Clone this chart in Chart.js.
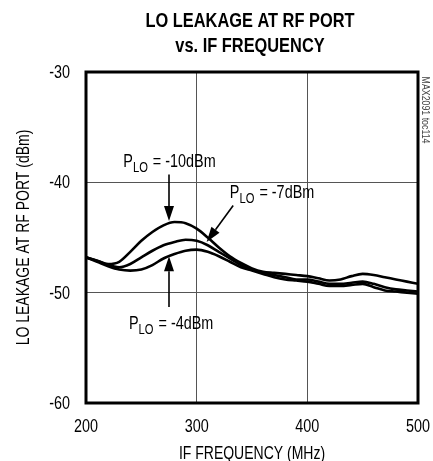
<!DOCTYPE html>
<html>
<head>
<meta charset="utf-8">
<script src="https://cdn.jsdelivr.net/npm/chart.js@4/dist/chart.umd.min.js"></script>
<style>
  html, body { margin: 0; padding: 0; background: #fff; }
  #wrap { position: relative; width: 433px; height: 461px; }
</style>
</head>
<body>
<div id="wrap"><canvas id="chart"></canvas></div>
<script>
// LO leakage at RF port vs IF frequency
var freq = [200, 210, 220, 230, 240, 250, 260, 270, 280, 290, 300, 310, 320, 330, 340, 350,
            360, 370, 380, 390, 400, 410, 420, 430, 440, 450, 460, 470, 480, 490, 500];
var plo10 = [-46.8, -47.1, -47.4, -47.2, -46.3, -45.3, -44.5, -43.9, -43.6, -43.7, -44.2, -45.0,
             -45.9, -46.7, -47.3, -47.8, -48.1, -48.2, -48.3, -48.4, -48.5, -48.7, -48.9, -48.8,
             -48.5, -48.3, -48.4, -48.6, -48.8, -49.0, -49.2];
var plo7 = [-46.8, -47.1, -47.5, -47.7, -47.4, -46.8, -46.2, -45.7, -45.4, -45.2, -45.3, -45.7,
            -46.3, -46.9, -47.5, -47.9, -48.2, -48.4, -48.6, -48.8, -48.8, -49.0, -49.2, -49.2,
            -49.1, -49.0, -49.2, -49.5, -49.7, -49.8, -49.9];
var plo4 = [-46.8, -47.2, -47.6, -47.9, -48.0, -47.9, -47.5, -46.9, -46.5, -46.2, -46.1, -46.3,
            -46.7, -47.2, -47.7, -48.0, -48.3, -48.6, -48.8, -48.9, -49.0, -49.2, -49.4, -49.4,
            -49.3, -49.2, -49.5, -49.8, -49.9, -50.0, -50.1];
var xTicks = [200, 300, 400, 500];
var yTicks = [-60, -50, -40, -30];

var FONT = "'Liberation Sans', Arial, sans-serif";
var NARROW = 0.8; // squeeze to look like Helvetica Narrow

function toPoints(ys) {
    return freq.map(function(f, i) { return { x: f, y: ys[i] }; });
}

function lineSet(label, ys) {
    return {
        label: label,
        data: toPoints(ys),
        borderColor: '#000',
        borderWidth: 2.6,
        pointRadius: 0,
        fill: false,
        cubicInterpolationMode: 'monotone'
    };
}

// narrow text: draws at (x,y) with given align / baseline
function text(ctx, str, x, y, size, opts) {
    opts = opts || {};
    ctx.save();
    ctx.translate(x, y);
    if (opts.rotate) ctx.rotate(opts.rotate);
    ctx.scale(opts.sx || NARROW, 1);
    ctx.font = (opts.bold ? 'bold ' : '') + size + 'px ' + FONT;
    ctx.fillStyle = opts.color || '#000';
    ctx.textAlign = opts.align || 'left';
    ctx.textBaseline = opts.baseline || 'alphabetic';
    ctx.fillText(str, 0, 0);
    var w = ctx.measureText(str).width * (opts.sx || NARROW);
    ctx.restore();
    return w;
}

// P with subscript LO, then the rest
function drawPlo(ctx, x, y, rest) {
    x += text(ctx, 'P', x, y, 18);
    x += text(ctx, 'LO', x, y + 5, 14);
    text(ctx, rest, x + 1, y, 18);
}

function arrow(ctx, x1, y1, x2, y2) {
    var a = Math.atan2(y2 - y1, x2 - x1);
    var len = 15, half = 5;
    var bx = x2 - len * Math.cos(a), by = y2 - len * Math.sin(a);
    ctx.beginPath();
    ctx.moveTo(x1, y1);
    ctx.lineTo(bx, by);
    ctx.lineWidth = 1.6;
    ctx.stroke();
    ctx.beginPath();
    ctx.moveTo(x2, y2);
    ctx.lineTo(bx + half * Math.sin(a), by - half * Math.cos(a));
    ctx.lineTo(bx - half * Math.sin(a), by + half * Math.cos(a));
    ctx.closePath();
    ctx.fill();
}

var decorations = {
    id: 'decorations',
    afterDraw: function(chart) {
        var ctx = chart.ctx, a = chart.chartArea;
        var xs = chart.scales.x, ys = chart.scales.y;
        ctx.save();
        ctx.fillStyle = '#000';
        ctx.strokeStyle = '#000';

        // frame
        ctx.lineWidth = 3;
        ctx.strokeRect(a.left, a.top, a.right - a.left, a.bottom - a.top);

        // tick labels from the scales
        xs.ticks.forEach(function(t) {
            text(ctx, String(t.value), xs.getPixelForValue(t.value), 432, 18, { align: 'center' });
        });
        ys.ticks.forEach(function(t) {
            text(ctx, String(t.value), 70, ys.getPixelForValue(t.value) + 1, 18,
                 { align: 'right', baseline: 'middle' });
        });

        // axis titles
        text(ctx, 'IF FREQUENCY (MHz)', (a.left + a.right) / 2, 459, 17.5, { align: 'center' });
        text(ctx, 'LO LEAKAGE AT RF PORT (dBm)', 24, (a.top + a.bottom) / 2, 17.5,
             { align: 'center', baseline: 'middle', rotate: -Math.PI / 2 });

        // title
        text(ctx, 'LO LEAKAGE AT RF PORT', 250, 21, 21, { bold: true, align: 'center', baseline: 'middle', sx: 0.78 });
        text(ctx, 'vs. IF FREQUENCY', 250, 46, 21, { bold: true, align: 'center', baseline: 'middle', sx: 0.78 });

        // side code
        text(ctx, 'MAX2091 toc114', 425, 110, 11,
             { align: 'center', baseline: 'middle', rotate: Math.PI / 2, color: '#444' });

        // annotations
        drawPlo(ctx, xs.getPixelForValue(233.7), ys.getPixelForValue(-38.6), ' = -10dBm');
        arrow(ctx, xs.getPixelForValue(275), ys.getPixelForValue(-39.3),
              xs.getPixelForValue(275), ys.getPixelForValue(-43.5));
        drawPlo(ctx, xs.getPixelForValue(330), ys.getPixelForValue(-41.45), ' = -7dBm');
        arrow(ctx, xs.getPixelForValue(333), ys.getPixelForValue(-42.1),
              xs.getPixelForValue(309), ys.getPixelForValue(-45.4));
        drawPlo(ctx, xs.getPixelForValue(238.8), ys.getPixelForValue(-53.25), ' = -4dBm');
        arrow(ctx, xs.getPixelForValue(275), ys.getPixelForValue(-51.3),
              xs.getPixelForValue(275), ys.getPixelForValue(-46.7));
        ctx.restore();
    }
};

new Chart(document.getElementById('chart'), {
    type: 'line',
    data: {
        datasets: [
            lineSet('PLO = -10dBm', plo10),
            lineSet('PLO = -7dBm', plo7),
            lineSet('PLO = -4dBm', plo4)
        ]
    },
    options: {
        responsive: true,
        maintainAspectRatio: false,
        animation: false,
        layout: { padding: { top: 72, right: 15, bottom: 0, left: 0 } },
        plugins: { legend: { display: false }, tooltip: { enabled: false } },
        scales: {
            x: {
                type: 'linear',
                min: 200,
                max: 500,
                afterBuildTicks: function(s) { s.ticks = xTicks.map(function(v) { return { value: v }; }); },
                afterFit: function(s) { s.height = 58; },
                ticks: { display: false },
                grid: { color: '#555', lineWidth: 1, drawTicks: false },
                border: { display: false }
            },
            y: {
                min: -60,
                max: -30,
                afterBuildTicks: function(s) { s.ticks = yTicks.map(function(v) { return { value: v }; }); },
                afterFit: function(s) { s.width = 86; },
                ticks: { display: false },
                grid: { color: '#555', lineWidth: 1, drawTicks: false },
                border: { display: false }
            }
        }
    },
    plugins: [decorations]
});
</script>
</body>
</html>
